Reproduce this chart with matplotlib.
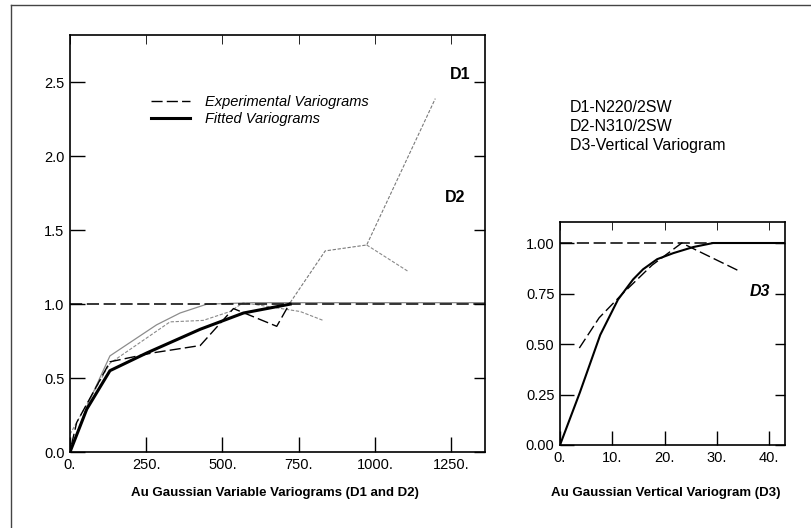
import numpy as np
import matplotlib
matplotlib.use("Agg")
import matplotlib.pyplot as plt
from matplotlib.lines import Line2D
from matplotlib.ticker import FuncFormatter, FormatStrFormatter

plt.rcParams['font.family'] = ['Liberation Sans', 'DejaVu Sans']

# D1 / D2 horizontal variograms (lag in m, normalised gamma)
d1_exp_lag = [5, 22, 131, 270, 427, 536, 678, 722]
d1_exp_gam = [0.05, 0.20, 0.61, 0.67, 0.72, 0.97, 0.85, 1.01]
d1_tail_lag = [722, 837, 973, 1198]
d1_tail_gam = [1.01, 1.36, 1.40, 2.39]
d2_exp_lag = [0, 131, 328, 437, 525, 568, 755, 830]
d2_exp_gam = [0.12, 0.60, 0.88, 0.89, 0.95, 1.01, 0.95, 0.89]
d2_tail_lag = [973, 1110]
d2_tail_gam = [1.40, 1.22]

d1_fit_lag = [0, 55, 131, 252, 427, 569, 722]
d1_fit_gam = [0, 0.29, 0.55, 0.67, 0.83, 0.94, 1.0]
d2_fit_lag = [0, 60, 131, 284, 361, 449, 600, 1361]
d2_fit_gam = [0, 0.33, 0.65, 0.86, 0.94, 1.0, 1.01, 1.01]

# D3 vertical variogram
d3_exp_lag = [3.7, 7.5, 12.0, 17.6, 23.3, 34.4]
d3_exp_gam = [0.48, 0.63, 0.75, 0.89, 1.0, 0.86]
d3_fit_lag = [0, 3.8, 7.7, 11.1, 14.0, 15.9, 18.6, 21.7, 25.5, 29.3, 43]
d3_fit_gam = [0, 0.26, 0.545, 0.72, 0.82, 0.87, 0.92, 0.95, 0.98, 1.0, 1.0]

sill = 1.0

x1_ticks = [0, 250, 500, 750, 1000, 1250]
y1_ticks = [0, 0.5, 1.0, 1.5, 2.0, 2.5]
x2_ticks = [0, 10, 20, 30, 40]
y2_ticks = [0, 0.25, 0.5, 0.75, 1.0]

W, H = 811, 528
fig = plt.figure(figsize=(W / 100, H / 100), dpi=100)


def px_axes(l, r, b, t):
    return fig.add_axes([l / W, 1 - b / H, (r - l) / W, (b - t) / H])


def style_axes(ax, xfmt, yfmt, ln):
    for s in ax.spines.values():
        s.set_linewidth(1.2)
    ax.tick_params(direction='in', length=ln, width=1.0, labelsize=10.5,
                   top=True, right=True, pad=4)
    ax.xaxis.set_major_formatter(xfmt)
    ax.yaxis.set_major_formatter(yfmt)
    fig.canvas.draw()
    for t in ax.xaxis.get_major_ticks():
        t.tick2line.set_markersize(ln * 0.6)
        t.tick2line.set_color('#999999')
        t.tick2line.set_markeredgewidth(0.6)
    for t in ax.yaxis.get_major_ticks():
        t.tick2line.set_markersize(ln * 0.7)


dash = (8, 3)

# left panel
ax1 = px_axes(70, 485, 452, 35)
ax1.plot(d2_exp_lag, d2_exp_gam, color='#8a8a8a', lw=0.8, dashes=(3, 1.5))
ax1.plot(d2_tail_lag, d2_tail_gam, color='#8a8a8a', lw=0.8, dashes=(3, 1.5))
ax1.plot(d1_tail_lag, d1_tail_gam, color='#7a7a7a', lw=0.8, dashes=(3, 1.5))
ax1.plot(d2_fit_lag, d2_fit_gam, color='#8c8c8c', lw=0.9)
ax1.axhline(sill, color='black', lw=1.1, dashes=dash)
ax1.plot(d1_exp_lag, d1_exp_gam, color='black', lw=1.0, dashes=dash,
         label='Experimental Variograms')
ax1.plot(d1_fit_lag, d1_fit_gam, color='black', lw=2.2, label='Fitted Variograms')
ax1.set_xlim(0, 1361)
ax1.set_ylim(0, 2.82)
ax1.set_xticks(x1_ticks)
ax1.set_yticks(y1_ticks)
ax1.legend(loc='upper left', bbox_to_anchor=(0.195, 0.855), frameon=False,
           borderpad=0, borderaxespad=0, handlelength=2.7, handletextpad=1.0,
           labelspacing=0.2, prop=dict(style='italic', size=10.5))
ax1.text(1279, 2.55, 'D1', fontsize=11.5, fontweight='bold', ha='center', va='center')
ax1.text(1262, 1.72, 'D2', fontsize=11.5, fontweight='bold', ha='center', va='center')
style_axes(ax1, FuncFormatter(lambda v, p: f"{v:.0f}."), FormatStrFormatter('%.1f'), 11)
ax1.set_xlabel('Au Gaussian Variable Variograms (D1 and D2)', fontsize=9.5,
               fontweight='bold')
ax1.xaxis.set_label_coords(0.495, -0.084)

# right panel
ax2 = px_axes(560, 785, 445, 222)
ax2.axhline(sill, color='black', lw=1.1, dashes=dash)
ax2.plot(d3_exp_lag, d3_exp_gam, color='black', lw=1.0, dashes=dash)
ax2.plot(d3_fit_lag, d3_fit_gam, color='black', lw=1.5)
ax2.set_xlim(0, 43.06)
ax2.set_ylim(0, 1.104)
ax2.set_xticks(x2_ticks)
ax2.set_yticks(y2_ticks)
ax2.text(38.3, 0.76, 'D3', fontsize=11.5, fontweight='bold', style='italic',
         ha='center', va='center')
style_axes(ax2, FuncFormatter(lambda v, p: f"{v:.0f}."), FormatStrFormatter('%.2f'), 10)
ax2.set_xlabel('Au Gaussian Vertical Variogram (D3)', fontsize=9.5, fontweight='bold')
ax2.xaxis.set_label_coords(0.47, -0.188)

fig.text(570 / W, 1 - 100 / H, 'D1-N220/2SW\nD2-N310/2SW\nD3-Vertical Variogram',
         fontsize=11.5, va='top', ha='left', linespacing=1.35)

# page frame
fig.add_artist(Line2D([11 / W, 11 / W], [0, 1 - 5 / H], color='#444444', lw=1.0))
fig.add_artist(Line2D([11 / W, 1], [1 - 5 / H, 1 - 5 / H], color='#444444', lw=1.0))

fig.savefig('out.png', dpi=100)
